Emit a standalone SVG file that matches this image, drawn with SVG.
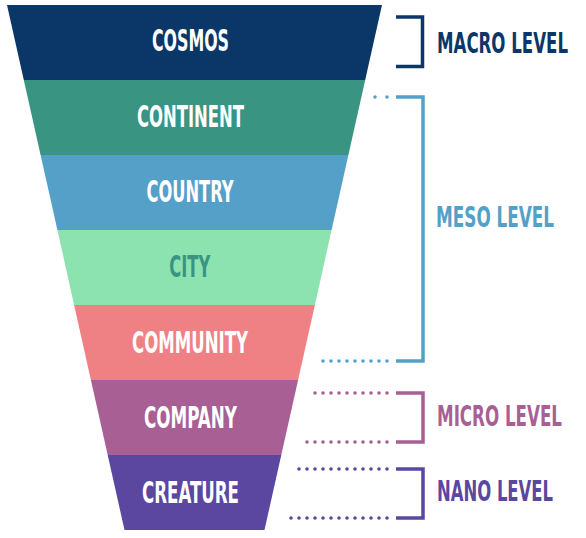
<svg xmlns="http://www.w3.org/2000/svg" width="586" height="538" viewBox="0 0 586 538">
<style>
.lbl{font-family:"DejaVu Sans","Liberation Sans",sans-serif;font-weight:bold;font-stretch:condensed;font-size:30px;text-anchor:middle;fill:#ffffff}
.lvl{font-family:"DejaVu Sans","Liberation Sans",sans-serif;font-weight:bold;font-stretch:condensed;font-size:29px}
.br{fill:none;stroke-width:3.5}
.dot{fill:none;stroke-width:3.6;stroke-linecap:round;stroke-dasharray:0 8}
</style>
<rect width="586" height="538" fill="#ffffff"/>
<g id="cosmos">
<polygon points="7,5 382,5 365.2,80 23.8,80" fill="#0a3668"/>
<text class="lbl" transform="translate(190.5,51) scale(0.7,1)" textLength="110" lengthAdjust="spacingAndGlyphs">COSMOS</text>
</g>
<g id="continent">
<polygon points="23.8,80 365.2,80 348.4,155 40.6,155" fill="#3a9482"/>
<text class="lbl" transform="translate(190.5,127) scale(0.7,1)" textLength="152.9" lengthAdjust="spacingAndGlyphs">CONTINENT</text>
</g>
<g id="country">
<polygon points="40.6,155 348.4,155 331.6,230 57.4,230" fill="#55a0c8"/>
<text class="lbl" transform="translate(190,202) scale(0.7,1)" textLength="124.3" lengthAdjust="spacingAndGlyphs">COUNTRY</text>
</g>
<g id="city">
<polygon points="57.4,230 331.6,230 314.9,305 74.1,305" fill="#8de3b0"/>
<text class="lbl" transform="translate(189.7,277) scale(0.7,1)" textLength="58.6" lengthAdjust="spacingAndGlyphs" style="fill:#3a9482">CITY</text>
</g>
<g id="community">
<polygon points="74.1,305 314.9,305 298.1,380 90.9,380" fill="#ef8185"/>
<text class="lbl" transform="translate(190,353) scale(0.7,1)" textLength="165.7" lengthAdjust="spacingAndGlyphs">COMMUNITY</text>
</g>
<g id="company">
<polygon points="90.9,380 298.1,380 281.3,455 107.7,455" fill="#a85f94"/>
<text class="lbl" transform="translate(190.5,428) scale(0.7,1)" textLength="132.9" lengthAdjust="spacingAndGlyphs">COMPANY</text>
</g>
<g id="creature">
<polygon points="107.7,455 281.3,455 264.5,530 124.5,530" fill="#5b46a0"/>
<text class="lbl" transform="translate(190.5,503) scale(0.7,1)" textLength="138.6" lengthAdjust="spacingAndGlyphs">CREATURE</text>
</g>
<g id="macro-level">
<path class="br" d="M396,17 H422.5 V66.5 H396" stroke="#0a3668"/>
<text class="lvl" transform="translate(437,53) scale(0.7,1)" textLength="187.1" lengthAdjust="spacingAndGlyphs" fill="#0a3668">MACRO LEVEL</text>
</g>
<g id="meso-level">
<path class="br" d="M396,97 H423 V361 H396" stroke="#55a0c8"/>
<text class="lvl" transform="translate(436,227) scale(0.7,1)" textLength="168.6" lengthAdjust="spacingAndGlyphs" fill="#55a0c8">MESO LEVEL</text>
</g>
<g id="micro-level">
<path class="br" d="M396,393 H423 V442 H396" stroke="#a85f94"/>
<text class="lvl" transform="translate(437,426) scale(0.7,1)" textLength="178.6" lengthAdjust="spacingAndGlyphs" fill="#a85f94">MICRO LEVEL</text>
</g>
<g id="nano-level">
<path class="br" d="M396,469 H423 V518 H396" stroke="#5b46a0"/>
<text class="lvl" transform="translate(437,501) scale(0.7,1)" textLength="165.7" lengthAdjust="spacingAndGlyphs" fill="#5b46a0">NANO LEVEL</text>
</g>
<g id="connectors">
<path class="dot" d="M387,97 H374" stroke="#55a0c8" style="stroke-dasharray:0 12"/>
<path class="dot" d="M387,361 H322" stroke="#55a0c8"/>
<path class="dot" d="M387,393 H314" stroke="#a85f94"/>
<path class="dot" d="M387,442 H306" stroke="#a85f94"/>
<path class="dot" d="M387,469 H297" stroke="#5b46a0"/>
<path class="dot" d="M387,518 H288" stroke="#5b46a0"/>
</g>
</svg>
